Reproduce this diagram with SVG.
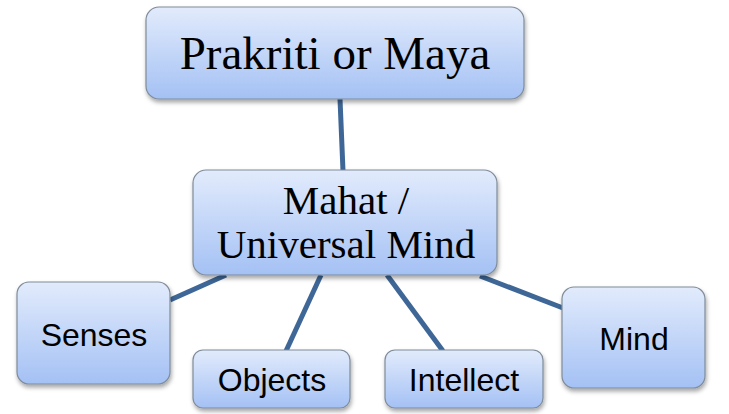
<svg xmlns="http://www.w3.org/2000/svg" width="729" height="414" viewBox="0 0 729 414">
<defs>
<linearGradient id="g" x1="0" y1="0" x2="0" y2="1">
<stop offset="0" stop-color="#e2ebfc"/>
<stop offset="1" stop-color="#a4c1f4"/>
</linearGradient>
<filter id="sh" x="-10%" y="-10%" width="130%" height="140%">
<feDropShadow dx="1" dy="3" stdDeviation="2" flood-color="#000" flood-opacity="0.35"/>
</filter>
</defs>
<style>
.box{fill:url(#g);stroke:#7f8c99;stroke-width:1.2;filter:url(#sh)}
.ser{font-family:"Liberation Serif",serif;fill:#000;text-anchor:middle}
.san{font-family:"Liberation Sans",Arial,sans-serif;fill:#000;text-anchor:middle;font-size:32px}
.c line{stroke:#3e6797;stroke-width:5;stroke-linecap:butt}
</style>
<g id="connectors" class="c">
<line x1="340" y1="99" x2="343" y2="171"/>
<line x1="170" y1="300" x2="226" y2="275"/>
<line x1="286" y1="351" x2="321" y2="275"/>
<line x1="443" y1="351" x2="387" y2="275"/>
<line x1="563" y1="308" x2="480" y2="276"/>
</g>
<g id="prakriti">
<rect class="box" x="146" y="7" width="378" height="92" rx="13"/>
<text class="ser" x="335" y="69" font-size="47">Prakriti or Maya</text>
</g>
<g id="mahat">
<rect class="box" x="193" y="170" width="304" height="105" rx="13"/>
<text class="ser" x="346" y="214" font-size="41">Mahat /</text>
<text class="ser" x="346" y="258" font-size="41">Universal Mind</text>
</g>
<g id="senses">
<rect class="box" x="17" y="282" width="153" height="102" rx="12"/>
<text class="san" x="94" y="346">Senses</text>
</g>
<g id="objects">
<rect class="box" x="193" y="350" width="157" height="58" rx="10"/>
<text class="san" x="272" y="391">Objects</text>
</g>
<g id="intellect">
<rect class="box" x="385" y="350" width="158" height="58" rx="10"/>
<text class="san" x="464" y="391">Intellect</text>
</g>
<g id="mind">
<rect class="box" x="562" y="287" width="143" height="101" rx="12"/>
<text class="san" x="634" y="350">Mind</text>
</g>
</svg>
